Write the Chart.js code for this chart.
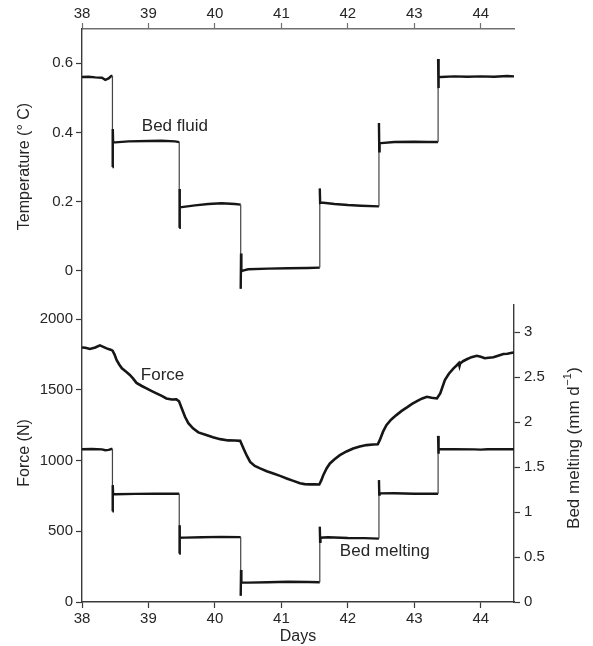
<!DOCTYPE html>
<html><head><meta charset="utf-8">
<script src="https://cdn.jsdelivr.net/npm/chart.js@4.4.1/dist/chart.umd.min.js"></script>
<style>
html,body{margin:0;padding:0;background:#fff;}
#wrap{position:relative;width:593px;height:646px;overflow:hidden;}
canvas{position:absolute;left:0;}
#topc{top:0;}
#botc{top:304px;}
</style></head><body>
<div id="wrap"><canvas id="topc" width="593" height="304"></canvas><canvas id="botc" width="593" height="342"></canvas></div>
<script>
// ---- tick labels ----
const dayTicks = [38, 39, 40, 41, 42, 43, 44];
const tempTicks = [0, 0.2, 0.4, 0.6];
const forceTicks = [0, 500, 1000, 1500, 2000];
const meltTicks = [0, 0.5, 1, 1.5, 2, 2.5, 3];

// ---- bed fluid temperature (°C) ----
const tempDays = [38.00,38.10,38.20,38.30,38.35,38.40,38.44,38.458,
  38.458,38.463,38.468,38.50,38.70,39.00,39.20,39.40,39.463,
  39.463,39.468,39.473,39.50,39.70,39.90,40.10,40.30,40.388,
  40.388,40.393,40.398,40.42,40.50,40.80,41.10,41.40,41.578,
  41.578,41.583,41.60,41.80,42.00,42.20,42.468,
  42.468,42.473,42.478,42.50,42.70,43.00,43.20,43.358,
  43.358,43.363,43.368,43.40,43.60,43.80,44.00,44.20,44.40,44.50];
const tempValues = [0.560,0.561,0.559,0.558,0.552,0.556,0.563,0.563,
  0.300,0.410,0.372,0.371,0.374,0.375,0.376,0.374,0.372,
  0.124,0.236,0.183,0.184,0.189,0.193,0.195,0.193,0.191,
  -0.052,0.050,-0.002,0.000,0.004,0.006,0.007,0.008,0.009,
  0.238,0.196,0.197,0.193,0.190,0.188,0.186,
  0.427,0.345,0.368,0.369,0.372,0.373,0.372,0.372,
  0.612,0.528,0.561,0.560,0.562,0.561,0.562,0.561,0.563,0.562];

// ---- bed melting (mm/d) ----
const meltDays = [38.00,38.15,38.30,38.35,38.40,38.458,
  38.458,38.463,38.468,38.50,38.80,39.10,39.463,
  39.463,39.468,39.473,39.55,39.80,40.10,40.388,
  40.388,40.393,40.398,40.50,40.80,41.10,41.40,41.578,
  41.578,41.583,41.588,41.70,42.00,42.25,42.468,
  42.468,42.473,42.478,42.70,43.00,43.358,
  43.358,43.363,43.368,43.60,43.90,44.00,44.10,44.30,44.50];
const meltValues = [1.700,1.702,1.698,1.688,1.692,1.705,
  1.010,1.300,1.200,1.198,1.203,1.205,1.205,
  0.540,0.855,0.715,0.716,0.720,0.725,0.722,
  0.070,0.355,0.215,0.215,0.220,0.225,0.222,0.220,
  0.837,0.670,0.715,0.720,0.712,0.710,0.705,
  1.356,1.195,1.208,1.210,1.205,1.205,
  1.848,1.650,1.700,1.700,1.698,1.695,1.700,1.700,1.700];

// ---- force (N) ----
const forceDays = [38.00,38.05,38.12,38.20,38.27,38.32,38.37,38.43,38.46,38.49,38.52,38.56,38.60,38.66,38.72,38.77,38.82,38.90,38.97,39.05,39.12,39.20,39.27,39.35,39.42,39.46,39.50,39.55,39.60,39.67,39.75,39.87,39.97,40.08,40.20,40.30,40.38,40.43,40.48,40.53,40.60,40.68,40.78,40.88,40.98,41.08,41.18,41.28,41.35,41.43,41.50,41.57,41.60,41.63,41.68,41.73,41.80,41.88,41.98,42.08,42.18,42.28,42.38,42.45,42.48,42.53,42.58,42.65,42.73,42.81,42.89,42.96,43.04,43.12,43.19,43.26,43.34,43.39,43.46,43.52,43.59,43.64,43.67,43.68,43.69,43.74,43.79,43.86,43.94,44.00,44.06,44.12,44.19,44.26,44.34,44.40,44.47,44.50];
const forceValues = [1800,1798,1790,1800,1815,1805,1794,1785,1778,1750,1712,1680,1653,1630,1606,1580,1550,1528,1511,1492,1476,1458,1440,1432,1433,1420,1370,1310,1265,1228,1200,1181,1165,1152,1143,1142,1140,1086,1035,991,962,945,925,909,892,874,857,840,834,832,832,831,860,897,945,980,1010,1039,1065,1086,1100,1110,1114,1116,1145,1205,1251,1290,1322,1352,1377,1400,1421,1440,1452,1445,1440,1476,1570,1615,1653,1675,1690,1670,1688,1705,1717,1732,1742,1735,1724,1728,1731,1742,1754,1756,1763,1765];

// ---- in-plot labels ----
const topNotes = [{text: 'Bed fluid', day: 38.90, value: 0.417, axis: 'y'}];
const botNotes = [
  {text: 'Force', day: 38.885, value: 1605, axis: 'yF'},
  {text: 'Bed melting', day: 41.88, value: 0.559, axis: 'yM'}
];

const zip = (xs, ys) => xs.map((x, i) => ({x, y: ys[i]}));
const FONT = '"Liberation Sans", Arial, Helvetica, sans-serif';
const TXT = '#262626';
const LINE = '#161616';
const AX = '#3a3a3a';

const segStyle = {
  borderWidth: c => Math.abs(c.p1.parsed.x - c.p0.parsed.x) < 0.003 ? 1.2 : 2.4,
  borderColor: c => Math.abs(c.p1.parsed.x - c.p0.parsed.x) < 0.003 ? '#444' : LINE
};

const notePlugin = {
  id: 'notes',
  afterDatasetsDraw(chart, args, opts) {
    const ctx = chart.ctx;
    ctx.save();
    ctx.font = '17px ' + FONT;
    ctx.fillStyle = TXT;
    ctx.textAlign = 'left';
    ctx.textBaseline = 'middle';
    (opts.notes || []).forEach(n => {
      const x = chart.scales.x.getPixelForValue(n.day);
      const y = chart.scales[n.axis].getPixelForValue(n.value);
      ctx.fillText(n.text, x, y);
    });
    ctx.restore();
  }
};

const rightTitlePlugin = {
  id: 'rightTitle',
  afterDraw(chart) {
    const s = chart.scales.yM;
    const ctx = chart.ctx;
    const cx = s.right - 19;
    const cy = (chart.chartArea.top + chart.chartArea.bottom) / 2 - 5;
    ctx.save();
    ctx.translate(cx, cy);
    ctx.rotate(-Math.PI / 2);
    ctx.fillStyle = TXT;
    ctx.textBaseline = 'middle';
    ctx.textAlign = 'left';
    const main = 'Bed melting (mm d', sup = '\u22121', close = ')';
    ctx.font = '17px ' + FONT;
    const w1 = ctx.measureText(main).width, w3 = ctx.measureText(close).width;
    ctx.font = '11px ' + FONT;
    const w2 = ctx.measureText(sup).width;
    let x = -(w1 + w2 + w3 + 1) / 2;
    ctx.font = '17px ' + FONT;
    ctx.fillText(main, x, 0);
    x += w1 + 0.5;
    ctx.font = '11px ' + FONT;
    ctx.fillText(sup, x, -6);
    x += w2 + 0.5;
    ctx.font = '17px ' + FONT;
    ctx.fillText(close, x, 0);
    ctx.restore();
  }
};

const setTicks = arr => s => { s.ticks = arr.map(v => ({value: v})); };
const tickFont = {family: FONT, size: 15};
const titleFont = {family: FONT, size: 16};

// ---------- top panel ----------
new Chart(document.getElementById('topc'), {
  type: 'line',
  data: {datasets: [{
    data: zip(tempDays, tempValues), xAxisID: 'x', yAxisID: 'y',
    borderColor: LINE, borderWidth: 2.4, pointRadius: 0, tension: 0, segment: segStyle
  }]},
  options: {
    responsive: false, animation: false, devicePixelRatio: 1,
    layout: {padding: {left: 0, right: 79, top: 0, bottom: 0}},
    plugins: {legend: {display: false}, tooltip: {enabled: false}, notes: {notes: topNotes}},
    scales: {
      x: {
        type: 'linear', position: 'top', min: 38, max: 44.5,
        afterBuildTicks: setTicks(dayTicks),
        afterFit: s => { s.height = 29; s.paddingLeft = 0; s.paddingRight = 0; },
        ticks: {font: tickFont, color: TXT, padding: 0, maxRotation: 0, callback: v => String(v)},
        grid: {drawOnChartArea: false, tickLength: 6, color: '#707070', tickWidth: 1.2},
        border: {color: '#707070', width: 1.4}
      },
      y: {
        type: 'linear', position: 'left', min: -0.0963, max: 0.699,
        afterBuildTicks: setTicks(tempTicks),
        afterFit: s => { s.width = 82; s.paddingTop = 0; s.paddingBottom = 0; },
        ticks: {font: tickFont, color: TXT, padding: 3, callback: v => String(v)},
        grid: {drawOnChartArea: false, tickLength: 6, color: AX, tickWidth: 1.2},
        border: {color: AX, width: 1.4},
        title: {display: true, text: 'Temperature (\u00b0 C)', font: titleFont, color: TXT, padding: {top: 15, bottom: 0}}
      }
    }
  },
  plugins: [notePlugin]
});

// ---------- bottom panel ----------
new Chart(document.getElementById('botc'), {
  type: 'line',
  data: {datasets: [
    {data: zip(forceDays, forceValues), xAxisID: 'x', yAxisID: 'yF',
     borderColor: LINE, borderWidth: 2.6, pointRadius: 0, tension: 0},
    {data: zip(meltDays, meltValues), xAxisID: 'x', yAxisID: 'yM',
     borderColor: LINE, borderWidth: 2.4, pointRadius: 0, tension: 0, segment: segStyle}
  ]},
  options: {
    responsive: false, animation: false, devicePixelRatio: 1,
    layout: {padding: 0},
    plugins: {legend: {display: false}, tooltip: {enabled: false}, notes: {notes: botNotes}},
    scales: {
      x: {
        type: 'linear', position: 'bottom', min: 38, max: 44.5,
        afterBuildTicks: setTicks(dayTicks),
        afterFit: s => { s.height = 44; s.paddingLeft = 0; s.paddingRight = 0; },
        ticks: {font: tickFont, color: TXT, padding: 2, maxRotation: 0, callback: v => String(v)},
        grid: {drawOnChartArea: false, tickLength: 6, color: AX, tickWidth: 1.2},
        border: {color: AX, width: 1.4},
        title: {display: true, text: 'Days', font: titleFont, color: TXT, padding: {top: 0, bottom: 0}}
      },
      yF: {
        type: 'linear', position: 'left', min: 0, max: 2108,
        afterBuildTicks: setTicks(forceTicks),
        afterFit: s => { s.width = 82; s.paddingTop = 0; s.paddingBottom = 0; },
        ticks: {font: tickFont, color: TXT, padding: 3, callback: v => String(v)},
        grid: {drawOnChartArea: false, tickLength: 6, color: AX, tickWidth: 1.2},
        border: {color: AX, width: 1.4},
        title: {display: true, text: 'Force (N)', font: titleFont, color: TXT, padding: {top: 15, bottom: 0}}
      },
      yM: {
        type: 'linear', position: 'right', min: 0, max: 3.315,
        afterBuildTicks: setTicks(meltTicks),
        afterFit: s => { s.width = 79; s.paddingTop = 0; s.paddingBottom = 0; },
        ticks: {font: tickFont, color: TXT, padding: 4, callback: v => String(v)},
        grid: {drawOnChartArea: false, tickLength: 6, color: AX, tickWidth: 1.2},
        border: {color: AX, width: 1.4}
      }
    }
  },
  plugins: [notePlugin, rightTitlePlugin]
});
</script>
</body></html>
